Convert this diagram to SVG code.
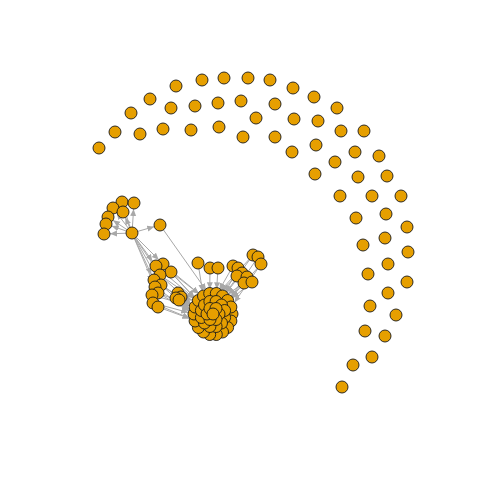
<svg xmlns="http://www.w3.org/2000/svg" width="480" height="480" viewBox="0 0 480 480">
<style>
.e{stroke:#A8A8A8;stroke-width:1;fill:none;marker-end:url(#ah)}
.n circle{fill:#E69F00;stroke:#1a1a1a;stroke-width:0.9}
</style>
<defs>
<marker id="ah" markerUnits="userSpaceOnUse" markerWidth="16" markerHeight="8" refX="13" refY="3" orient="auto">
<path d="M0,0 L7,3 L0,6 z" fill="#A8A8A8"/>
</marker>
</defs>
<rect width="480" height="480" fill="#fff"/>
<g id="edges">
<line class="e" x1="132" y1="233" x2="122" y2="202"/>
<line class="e" x1="132" y1="233" x2="134" y2="203"/>
<line class="e" x1="132" y1="233" x2="113" y2="208"/>
<line class="e" x1="132" y1="233" x2="123" y2="212"/>
<line class="e" x1="132" y1="233" x2="108" y2="217"/>
<line class="e" x1="132" y1="233" x2="106" y2="224"/>
<line class="e" x1="132" y1="233" x2="104" y2="234"/>
<line class="e" x1="132" y1="233" x2="160" y2="225"/>
<line class="e" x1="132" y1="233" x2="156" y2="266"/>
<line class="e" x1="132" y1="233" x2="163" y2="264"/>
<line class="e" x1="132" y1="233" x2="171" y2="272"/>
<line class="e" x1="132" y1="233" x2="160" y2="275"/>
<line class="e" x1="132" y1="233" x2="154" y2="280"/>
<line class="e" x1="132" y1="233" x2="161" y2="285"/>
<line class="e" x1="132" y1="233" x2="155" y2="287"/>
<line class="e" x1="160" y1="225" x2="209.7" y2="295.3"/>
<line class="e" x1="156" y1="266" x2="198.4" y2="301.8"/>
<line class="e" x1="163" y1="264" x2="198.4" y2="301.8"/>
<line class="e" x1="163" y1="264" x2="203.5" y2="297.5"/>
<line class="e" x1="171" y1="272" x2="203.5" y2="297.5"/>
<line class="e" x1="171" y1="272" x2="198.4" y2="301.8"/>
<line class="e" x1="160" y1="275" x2="195.1" y2="307.5"/>
<line class="e" x1="160" y1="275" x2="198.4" y2="301.8"/>
<line class="e" x1="154" y1="280" x2="195.1" y2="307.5"/>
<line class="e" x1="161" y1="285" x2="194" y2="314"/>
<line class="e" x1="161" y1="285" x2="195.1" y2="307.5"/>
<line class="e" x1="155" y1="287" x2="194" y2="314"/>
<line class="e" x1="158" y1="293" x2="194" y2="314"/>
<line class="e" x1="158" y1="293" x2="195.1" y2="307.5"/>
<line class="e" x1="152" y1="295" x2="195.1" y2="307.5"/>
<line class="e" x1="153" y1="303" x2="194" y2="314"/>
<line class="e" x1="153" y1="303" x2="195.1" y2="320.5"/>
<line class="e" x1="158" y1="307" x2="195.1" y2="320.5"/>
<line class="e" x1="178" y1="293" x2="195.1" y2="307.5"/>
<line class="e" x1="176" y1="298" x2="194" y2="314"/>
<line class="e" x1="181" y1="297" x2="198.4" y2="301.8"/>
<line class="e" x1="198" y1="263" x2="203.5" y2="297.5"/>
<line class="e" x1="210" y1="268" x2="209.7" y2="295.3"/>
<line class="e" x1="218" y1="268" x2="216.3" y2="295.3"/>
<line class="e" x1="233" y1="266" x2="216.3" y2="295.3"/>
<line class="e" x1="238" y1="268" x2="222.5" y2="297.5"/>
<line class="e" x1="242" y1="273" x2="222.5" y2="297.5"/>
<line class="e" x1="247" y1="277" x2="227.6" y2="301.8"/>
<line class="e" x1="252" y1="282" x2="227.6" y2="301.8"/>
<line class="e" x1="237" y1="276" x2="216.3" y2="295.3"/>
<line class="e" x1="244" y1="283" x2="222.5" y2="297.5"/>
<line class="e" x1="253" y1="255" x2="222.5" y2="297.5"/>
<line class="e" x1="258" y1="257" x2="227.6" y2="301.8"/>
<line class="e" x1="261" y1="264" x2="227.6" y2="301.8"/>
<line class="e" x1="253" y1="255" x2="216.3" y2="295.3"/>
<line class="e" x1="261" y1="264" x2="230.9" y2="307.5"/>
</g>
<g id="isolated" class="n">
<circle cx="99" cy="148" r="6"/><circle cx="115" cy="132" r="6"/><circle cx="131" cy="113" r="6"/><circle cx="150" cy="99" r="6"/>
<circle cx="176" cy="86" r="6"/><circle cx="202" cy="80" r="6"/><circle cx="224" cy="78" r="6"/><circle cx="248" cy="78" r="6"/>
<circle cx="270" cy="80" r="6"/><circle cx="293" cy="88" r="6"/><circle cx="314" cy="97" r="6"/><circle cx="337" cy="108" r="6"/>
<circle cx="140" cy="134" r="6"/><circle cx="171" cy="108" r="6"/><circle cx="195" cy="106" r="6"/><circle cx="218" cy="103" r="6"/>
<circle cx="241" cy="101" r="6"/><circle cx="275" cy="104" r="6"/><circle cx="163" cy="129" r="6"/><circle cx="191" cy="130" r="6"/>
<circle cx="219" cy="127" r="6"/><circle cx="256" cy="118" r="6"/><circle cx="243" cy="137" r="6"/><circle cx="275" cy="137" r="6"/>
<circle cx="294" cy="119" r="6"/><circle cx="318" cy="121" r="6"/><circle cx="341" cy="131" r="6"/><circle cx="364" cy="131" r="6"/>
<circle cx="292" cy="152" r="6"/><circle cx="316" cy="145" r="6"/><circle cx="355" cy="152" r="6"/><circle cx="379" cy="156" r="6"/>
<circle cx="335" cy="162" r="6"/><circle cx="315" cy="174" r="6"/><circle cx="358" cy="177" r="6"/><circle cx="387" cy="176" r="6"/>
<circle cx="340" cy="196" r="6"/><circle cx="372" cy="196" r="6"/><circle cx="401" cy="196" r="6"/><circle cx="356" cy="218" r="6"/>
<circle cx="386" cy="214" r="6"/><circle cx="407" cy="227" r="6"/><circle cx="363" cy="245" r="6"/><circle cx="385" cy="238" r="6"/>
<circle cx="408" cy="252" r="6"/><circle cx="388" cy="264" r="6"/><circle cx="368" cy="274" r="6"/><circle cx="407" cy="282" r="6"/>
<circle cx="388" cy="293" r="6"/><circle cx="370" cy="306" r="6"/><circle cx="396" cy="315" r="6"/><circle cx="365" cy="331" r="6"/>
<circle cx="385" cy="336" r="6"/><circle cx="372" cy="357" r="6"/><circle cx="353" cy="365" r="6"/><circle cx="342" cy="387" r="6"/>
</g>
<g id="hub-group" class="n">
<circle cx="122" cy="202" r="6"/><circle cx="134" cy="203" r="6"/><circle cx="113" cy="208" r="6"/><circle cx="123" cy="212" r="6"/>
<circle cx="108" cy="217" r="6"/><circle cx="106" cy="224" r="6"/><circle cx="104" cy="234" r="6"/>
<circle cx="132" cy="233" r="6"/><circle cx="160" cy="225" r="6"/>
</g>
<g id="left-cluster" class="n">
<circle cx="163" cy="264" r="6"/><circle cx="156" cy="266" r="6"/><circle cx="171" cy="272" r="6"/><circle cx="160" cy="275" r="6"/>
<circle cx="154" cy="280" r="6"/><circle cx="161" cy="285" r="6"/><circle cx="155" cy="287" r="6"/><circle cx="158" cy="293" r="6"/>
<circle cx="152" cy="295" r="6"/><circle cx="153" cy="303" r="6"/><circle cx="158" cy="307" r="6"/>
</g>
<g id="small-cluster" class="n">
<circle cx="178" cy="293" r="6"/><circle cx="181" cy="297" r="6"/><circle cx="176" cy="298" r="6"/><circle cx="179" cy="300" r="6"/>
</g>
<g id="top-nodes" class="n">
<circle cx="198" cy="263" r="6"/><circle cx="210" cy="268" r="6"/><circle cx="218" cy="268" r="6"/>
</g>
<g id="right-cluster" class="n">
<circle cx="253" cy="255" r="6"/><circle cx="258" cy="257" r="6"/><circle cx="261" cy="264" r="6"/>
<circle cx="233" cy="266" r="6"/><circle cx="238" cy="268" r="6"/><circle cx="242" cy="273" r="6"/><circle cx="237" cy="276" r="6"/>
<circle cx="247" cy="277" r="6"/><circle cx="244" cy="283" r="6"/><circle cx="252" cy="282" r="6"/>
</g>
<g id="big-cluster" class="n">
<circle cx="232" cy="314" r="6"/><circle cx="230.9" cy="321" r="6"/><circle cx="227.6" cy="327.5" r="6"/><circle cx="222.5" cy="332" r="6"/>
<circle cx="216.3" cy="334.5" r="6"/><circle cx="209.7" cy="334.5" r="6"/><circle cx="203.5" cy="332" r="6"/><circle cx="198.4" cy="327.5" r="6"/>
<circle cx="195.1" cy="321" r="6"/><circle cx="194" cy="314" r="6"/><circle cx="195.1" cy="307" r="6"/><circle cx="198.4" cy="300.5" r="6"/>
<circle cx="203.5" cy="296" r="6"/><circle cx="209.7" cy="293.5" r="6"/><circle cx="216.3" cy="293.5" r="6"/><circle cx="222.5" cy="296" r="6"/>
<circle cx="227.6" cy="300.5" r="6"/><circle cx="230.9" cy="307" r="6"/>
<circle cx="224.6" cy="317.5" r="6"/><circle cx="221.5" cy="323" r="6"/><circle cx="216.1" cy="326.5" r="6"/><circle cx="209.9" cy="326.5" r="6"/>
<circle cx="204.5" cy="323" r="6"/><circle cx="201.4" cy="317.5" r="6"/><circle cx="201.4" cy="310.5" r="6"/><circle cx="204.5" cy="305" r="6"/>
<circle cx="209.9" cy="301.5" r="6"/><circle cx="216.1" cy="301.5" r="6"/><circle cx="221.5" cy="305" r="6"/><circle cx="224.6" cy="310.5" r="6"/>
<circle cx="219" cy="314" r="6"/><circle cx="216" cy="319.5" r="6"/><circle cx="210" cy="319.5" r="6"/><circle cx="207" cy="314" r="6"/>
<circle cx="210" cy="308.5" r="6"/><circle cx="216" cy="308.5" r="6"/><circle cx="213" cy="314" r="6"/>
</g>
</svg>
